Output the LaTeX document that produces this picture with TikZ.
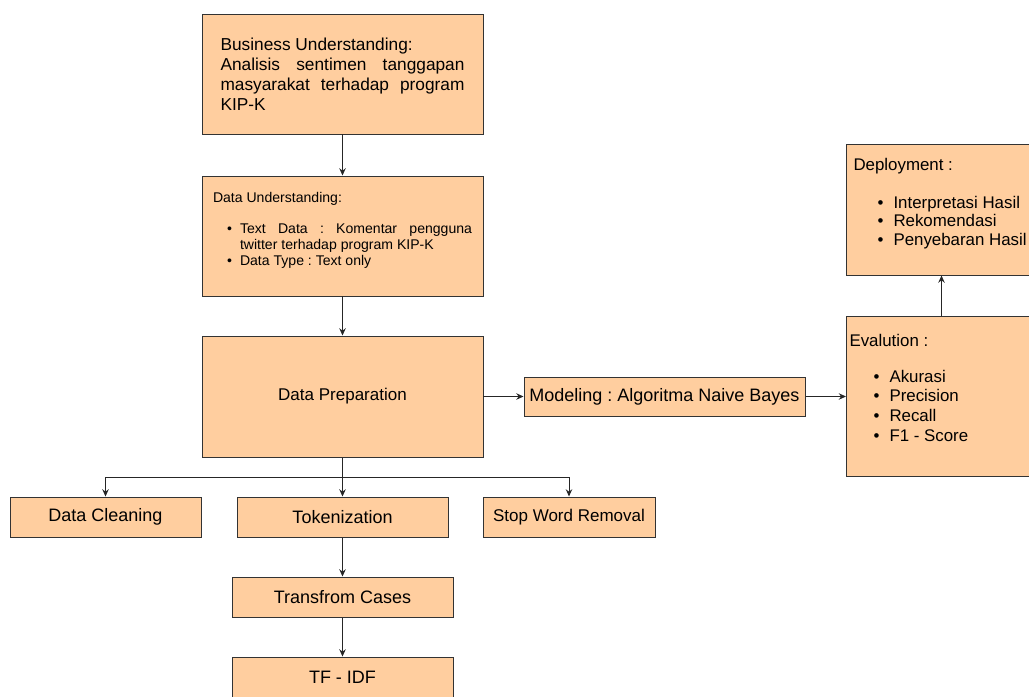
\documentclass[tikz,border=0pt]{standalone}
\usepackage{fontspec}
\setmainfont{Liberation Sans}
\usepackage{enumitem}
\usepackage{tikz}
\usetikzlibrary{arrows.meta,positioning}
\definecolor{peach}{HTML}{FFCE9F}
\definecolor{edgegray}{HTML}{333333}
\frenchspacing

\begin{document}
\begin{tikzpicture}[
  >={Stealth[length=1.8mm,width=1.6mm]},
  box/.style={draw=edgegray, line width=0.7pt, fill=peach, inner sep=0pt},
  wide/.style={box, minimum width=7.025cm},
  side/.style={box, minimum width=4.75cm, anchor=west},
  small/.style={box, minimum height=1cm, font=\fontsize{12.8}{15}\selectfont},
  e/.style={->, line width=0.7pt, draw=black!85}
]
  \useasboundingbox (0,0) rectangle (25.725,-17.4);
  % kolom utama
  \node[wide, minimum height=3cm, text width=6.1cm, align=justify,
        font=\fontsize{12.3}{14.2}\selectfont] (bu) at (8.5625,-1.85)
    {Business Understanding:\\ Analisis sentimen tanggapan masyarakat terhadap program KIP-K};
  \node[wide, minimum height=3cm, inner xsep=0.275cm] (du) at (8.5625,-5.9)
    {\begin{minipage}[c][2.6cm][t]{6.475cm}
       \fontsize{10}{11.2}\selectfont\hyphenpenalty=10000
       \vspace*{6pt}Data Understanding:
       \begin{itemize}[leftmargin=0.675cm, labelsep=0.2cm, itemsep=0pt,
                       parsep=0pt, partopsep=0pt, topsep=11pt, label=\textbullet]
         \item Text Data : Komentar pengguna twitter terhadap program KIP-K
         \item Data Type : Text only
       \end{itemize}
     \end{minipage}};
  \node[wide, minimum height=3.025cm, font=\fontsize{12.1}{14}\selectfont] (dp) at (8.5625,-9.9125) {Data Preparation};
  % pemodelan dan evaluasi
  \node[wide, minimum height=0.975cm, font=\fontsize{12.8}{15}\selectfont] (mo) at (16.6125,-9.9125) {Modeling : Algoritma Naive Bayes};
  \node[side, minimum height=4cm, inner xsep=0.05cm] (ev) at (21.15,-9.9125)
    {\begin{minipage}[c][3.6cm][t]{4.6cm}
       \fontsize{12}{14.2}\selectfont
       \vspace*{7pt}Evalution :
       \begin{itemize}[leftmargin=1cm, labelsep=0.25cm, itemsep=0pt,
                       parsep=0pt, partopsep=0pt, topsep=11pt, label=\textbullet]
         \item Akurasi
         \item Precision
         \item Recall
         \item F1 - Score
       \end{itemize}
     \end{minipage}};
  \node[side, minimum height=3.275cm, inner xsep=0.175cm] (de) at (21.15,-5.2375)
    {\begin{minipage}[c][2.9cm][t]{4.4cm}
       \fontsize{12}{13.5}\selectfont
       \vspace*{5pt}Deployment :
       \begin{itemize}[leftmargin=1cm, labelsep=0.25cm, itemsep=0pt,
                       parsep=0pt, partopsep=0pt, topsep=13pt, label=\textbullet]
         \item Interpretasi Hasil
         \item Rekomendasi
         \item Penyebaran Hasil
       \end{itemize}
     \end{minipage}};
  % praproses
  \node[small, minimum width=4.775cm] (dc) at (2.6375,-12.925) {Data Cleaning};
  \node[small, minimum width=5.275cm] (tk) at (8.5625,-12.925) {Tokenization};
  \node[small, minimum width=4.3cm, font=\fontsize{12.1}{14}\selectfont] (sw) at (14.225,-12.925) {Stop Word Removal};
  \node[small, minimum width=5.525cm] (tc) at (8.5625,-14.925) {Transfrom Cases};
  \node[small, minimum width=5.525cm] (tf) at (8.5625,-16.925) {TF - IDF};
  % panah
  \draw[e] (bu) -- (du);
  \draw[e] (du) -- (dp);
  \draw[e] (dp) -- (mo);
  \draw[e] (mo) -- (ev);
  \draw[e] (ev) -- (de);
  \path (dp.south) ++(0,-0.5) coordinate (br);
  \draw[e] (dp.south) -- (tk.north);
  \draw[e] (br) -| (dc.north);
  \draw[e] (br) -| (sw.north);
  \draw[e] (tk) -- (tc);
  \draw[e] (tc) -- (tf);
\end{tikzpicture}
\end{document}
